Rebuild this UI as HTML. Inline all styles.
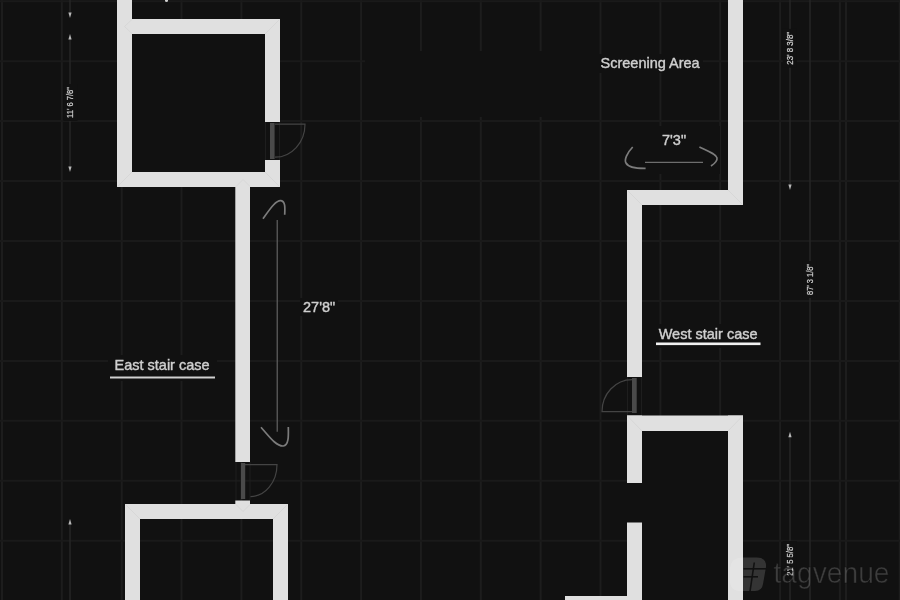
<!DOCTYPE html>
<html><head><meta charset="utf-8"><style>
html,body{margin:0;padding:0;background:#111111;width:900px;height:600px;overflow:hidden}
svg{display:block;will-change:transform}
text{font-family:"Liberation Sans",sans-serif}
</style></head><body>
<svg width="900" height="600" viewBox="0 0 900 600">
<rect x="0" y="0" width="900" height="600" fill="#111111"/>
<line x1="2.0" y1="0" x2="2.0" y2="600" stroke="#1d1d1d" stroke-width="2"/>
<line x1="61.85" y1="0" x2="61.85" y2="600" stroke="#1d1d1d" stroke-width="2"/>
<line x1="121.7" y1="0" x2="121.7" y2="600" stroke="#1d1d1d" stroke-width="2"/>
<line x1="181.55" y1="0" x2="181.55" y2="600" stroke="#1d1d1d" stroke-width="2"/>
<line x1="241.4" y1="0" x2="241.4" y2="600" stroke="#1d1d1d" stroke-width="2"/>
<line x1="301.25" y1="0" x2="301.25" y2="600" stroke="#1d1d1d" stroke-width="2"/>
<line x1="361.1" y1="0" x2="361.1" y2="600" stroke="#1d1d1d" stroke-width="2"/>
<line x1="420.95" y1="0" x2="420.95" y2="600" stroke="#1d1d1d" stroke-width="2"/>
<line x1="480.8" y1="0" x2="480.8" y2="600" stroke="#1d1d1d" stroke-width="2"/>
<line x1="540.65" y1="0" x2="540.65" y2="600" stroke="#1d1d1d" stroke-width="2"/>
<line x1="600.5" y1="0" x2="600.5" y2="600" stroke="#1d1d1d" stroke-width="2"/>
<line x1="660.35" y1="0" x2="660.35" y2="600" stroke="#1d1d1d" stroke-width="2"/>
<line x1="720.2" y1="0" x2="720.2" y2="600" stroke="#1d1d1d" stroke-width="2"/>
<line x1="780.05" y1="0" x2="780.05" y2="600" stroke="#1d1d1d" stroke-width="2"/>
<line x1="839.9" y1="0" x2="839.9" y2="600" stroke="#1d1d1d" stroke-width="2"/>
<line x1="899.75" y1="0" x2="899.75" y2="600" stroke="#1d1d1d" stroke-width="2"/>
<line x1="846" y1="0" x2="846" y2="600" stroke="#1d1d1d" stroke-width="2"/>
<line x1="0" y1="1.2" x2="900" y2="1.2" stroke="#1a1a1a" stroke-width="2"/>
<line x1="0" y1="61.15" x2="900" y2="61.15" stroke="#1a1a1a" stroke-width="2"/>
<line x1="0" y1="121.1" x2="900" y2="121.1" stroke="#1a1a1a" stroke-width="2"/>
<line x1="0" y1="181.05" x2="900" y2="181.05" stroke="#1a1a1a" stroke-width="2"/>
<line x1="0" y1="241.0" x2="900" y2="241.0" stroke="#1a1a1a" stroke-width="2"/>
<line x1="0" y1="300.95" x2="900" y2="300.95" stroke="#1a1a1a" stroke-width="2"/>
<line x1="0" y1="360.9" x2="900" y2="360.9" stroke="#1a1a1a" stroke-width="2"/>
<line x1="0" y1="420.85" x2="900" y2="420.85" stroke="#1a1a1a" stroke-width="2"/>
<line x1="0" y1="480.8" x2="900" y2="480.8" stroke="#1a1a1a" stroke-width="2"/>
<line x1="0" y1="540.75" x2="900" y2="540.75" stroke="#1a1a1a" stroke-width="2"/>
<rect x="365" y="51" width="233" height="66" fill="#111111"/>
<rect x="622" y="126" width="98" height="48" fill="#111111"/>
<rect x="132" y="34" width="133" height="138" fill="#111111"/>
<rect x="642" y="431" width="86" height="169" fill="#111111"/>
<rect x="117" y="0" width="15" height="187" fill="#e0e0e0"/>
<rect x="117" y="19" width="163" height="15" fill="#e0e0e0"/>
<rect x="265" y="19" width="15" height="103" fill="#e0e0e0"/>
<rect x="265" y="160" width="15" height="27" fill="#e0e0e0"/>
<rect x="117" y="172" width="163" height="15" fill="#e0e0e0"/>
<rect x="235.3" y="187" width="14.699999999999989" height="275" fill="#e0e0e0"/>
<rect x="235.3" y="500.5" width="14.699999999999989" height="3.5" fill="#e0e0e0"/>
<rect x="125" y="504" width="163" height="15" fill="#e0e0e0"/>
<rect x="125" y="504" width="15" height="96" fill="#e0e0e0"/>
<rect x="273" y="504" width="15" height="96" fill="#e0e0e0"/>
<rect x="728" y="0" width="15" height="205" fill="#e0e0e0"/>
<rect x="627" y="190" width="116" height="15" fill="#e0e0e0"/>
<rect x="627" y="190" width="15" height="187" fill="#e0e0e0"/>
<rect x="627" y="415.5" width="15" height="67.5" fill="#e0e0e0"/>
<rect x="627" y="415.5" width="116" height="15.5" fill="#e0e0e0"/>
<rect x="728" y="415.5" width="15" height="184.5" fill="#e0e0e0"/>
<rect x="627" y="522.5" width="15" height="77.5" fill="#e0e0e0"/>
<rect x="565" y="596" width="77" height="4" fill="#e0e0e0"/>
<path d="M132 19.5 L124.5 26.5 L132 33.5" fill="none" stroke="#d4d4d4" stroke-width="0.8"/>
<path d="M279.5 19.5 L265 34" fill="none" stroke="#d4d4d4" stroke-width="0.8"/>
<path d="M117.5 186.5 L132 172" fill="none" stroke="#d4d4d4" stroke-width="0.8"/>
<path d="M279.5 186.5 L265 172" fill="none" stroke="#d4d4d4" stroke-width="0.8"/>
<path d="M236 186.5 L243 179.5 L250 186.5" fill="none" stroke="#d4d4d4" stroke-width="0.8"/>
<path d="M125.5 504.5 L140 519" fill="none" stroke="#d4d4d4" stroke-width="0.8"/>
<path d="M287.5 504.5 L273 519" fill="none" stroke="#d4d4d4" stroke-width="0.8"/>
<path d="M236 504.5 L243 511.5 L250 504.5" fill="none" stroke="#d4d4d4" stroke-width="0.8"/>
<path d="M627.5 190.5 L642 205" fill="none" stroke="#d4d4d4" stroke-width="0.8"/>
<path d="M742.5 204.5 L728 190" fill="none" stroke="#d4d4d4" stroke-width="0.8"/>
<path d="M627.5 416 L642 431" fill="none" stroke="#d4d4d4" stroke-width="0.8"/>
<path d="M742.5 416 L728 431" fill="none" stroke="#d4d4d4" stroke-width="0.8"/>
<line x1="265.5" y1="122" x2="265.5" y2="160" stroke="#1e1e1e" stroke-width="1"/>
<line x1="279.5" y1="122" x2="279.5" y2="160" stroke="#1e1e1e" stroke-width="1"/>
<line x1="236" y1="462" x2="236" y2="500" stroke="#1e1e1e" stroke-width="1"/>
<line x1="250" y1="462" x2="250" y2="500" stroke="#1e1e1e" stroke-width="1"/>
<line x1="627.5" y1="377" x2="627.5" y2="415" stroke="#1e1e1e" stroke-width="1"/>
<line x1="641.5" y1="377" x2="641.5" y2="415" stroke="#1e1e1e" stroke-width="1"/>
<rect x="270" y="123" width="4.6" height="36" fill="#4a4a4a"/>
<path d="M275 124.2 H305 A30 33 0 0 1 275 157.2" fill="none" stroke="#444444" stroke-width="1.2"/>
<rect x="241" y="463" width="4.2" height="36" fill="#4a4a4a"/>
<path d="M245 464.6 H277 A26.5 32 0 0 1 250.5 496.6" fill="none" stroke="#444444" stroke-width="1.2"/>
<rect x="632" y="378" width="4.7" height="35" fill="#4a4a4a"/>
<path d="M632 379.6 A30 32 0 0 0 602 411.7 H632" fill="none" stroke="#444444" stroke-width="1.2"/>
<line x1="277.2" y1="220" x2="277.2" y2="431.7" stroke="#6a6a6a" stroke-width="1.1"/>
<path d="M263 218.7 C270 209 276 200 281 200.7 C285.5 201.5 285 208 284.7 214.7" fill="none" stroke="#7c7c7c" stroke-width="1.7"/>
<path d="M261 427.3 C268 435 276 446.5 283.3 446 C289 445.5 288.5 435 288.3 427" fill="none" stroke="#7c7c7c" stroke-width="1.7"/>
<line x1="645" y1="162.3" x2="703" y2="162.3" stroke="#6e6e6e" stroke-width="1.3"/>
<path d="M632.7 147 C627 153 624 160 626 163 C628 167 637 168.5 645.6 168.4" fill="none" stroke="#7c7c7c" stroke-width="1.7"/>
<path d="M699.4 147 C708 151 716 154 717 158 C717.5 161 714 164 711 166" fill="none" stroke="#7c7c7c" stroke-width="1.7"/>
<line x1="70" y1="0" x2="70" y2="15" stroke="#262626" stroke-width="1.5"/>
<line x1="70" y1="37" x2="70" y2="169" stroke="#262626" stroke-width="1.5"/>
<line x1="70" y1="522" x2="70" y2="600" stroke="#262626" stroke-width="1.5"/>
<path d="M68.4 12.5 L71.6 12.5 L70 18 Z" fill="#b8b8b8"/>
<path d="M68.4 39.5 L71.6 39.5 L70 34 Z" fill="#b8b8b8"/>
<path d="M68.4 166.5 L71.6 166.5 L70 172 Z" fill="#b8b8b8"/>
<path d="M68.4 524.5 L71.6 524.5 L70 519 Z" fill="#b8b8b8"/>
<line x1="790" y1="0" x2="790" y2="186" stroke="#262626" stroke-width="1.5"/>
<line x1="790" y1="435" x2="790" y2="600" stroke="#262626" stroke-width="1.5"/>
<line x1="810" y1="0" x2="810" y2="600" stroke="#262626" stroke-width="1.5"/>
<path d="M788.4 184.5 L791.6 184.5 L790 190 Z" fill="#b8b8b8"/>
<path d="M788.4 437.2 L791.6 437.2 L790 431.7 Z" fill="#b8b8b8"/>
<rect x="63.400000000000006" y="84.0" width="14" height="37" fill="#111111"/>
<text x="0" y="0" transform="translate(73.4,102.5) rotate(-90)" text-anchor="middle" font-size="9" fill="#cccccc" stroke="#cccccc" stroke-width="0.25" textLength="31" lengthAdjust="spacingAndGlyphs">11' 6 7/8"</text>
<rect x="782.8" y="28.949999999999996" width="14" height="38.7" fill="#111111"/>
<text x="0" y="0" transform="translate(792.8,48.3) rotate(-90)" text-anchor="middle" font-size="9" fill="#cccccc" stroke="#cccccc" stroke-width="0.25" textLength="32.7" lengthAdjust="spacingAndGlyphs">23' 8 3/8"</text>
<rect x="802.8" y="261.0" width="14" height="37" fill="#111111"/>
<text x="0" y="0" transform="translate(812.8,279.5) rotate(-90)" text-anchor="middle" font-size="9" fill="#cccccc" stroke="#cccccc" stroke-width="0.25" textLength="31" lengthAdjust="spacingAndGlyphs">87' 3 1/8"</text>
<rect x="782.8" y="541.0" width="14" height="38" fill="#111111"/>
<text x="0" y="0" transform="translate(792.8,560) rotate(-90)" text-anchor="middle" font-size="9" fill="#cccccc" stroke="#cccccc" stroke-width="0.25" textLength="32" lengthAdjust="spacingAndGlyphs">21' 5 5/8"</text>
<rect x="597" y="54" width="106" height="19" fill="#111111"/>
<text x="600.5" y="67.7" font-size="14.5" fill="#cfcfcf" stroke="#cfcfcf" stroke-width="0.4">Screening Area</text>
<text x="662" y="145.3" font-size="14.5" fill="#cfcfcf" stroke="#cfcfcf" stroke-width="0.4">7'3"</text>
<rect x="300" y="298" width="38" height="18" fill="#111111"/>
<text x="303" y="312.0" font-size="14.5" fill="#cfcfcf" stroke="#cfcfcf" stroke-width="0.4">27'8"</text>
<rect x="108" y="355" width="109" height="26" fill="#111111"/>
<text x="114.5" y="369.5" font-size="14.5" fill="#cfcfcf" stroke="#cfcfcf" stroke-width="0.4">East stair case</text>
<rect x="110" y="376.5" width="105" height="2" fill="#d0d0d0"/>
<rect x="654" y="324" width="109" height="24" fill="#111111"/>
<text x="658.7" y="338.7" font-size="14.5" fill="#cfcfcf" stroke="#cfcfcf" stroke-width="0.4">West stair case</text>
<rect x="656" y="342.5" width="104.5" height="2.6" fill="#f2f2f2"/>
<circle cx="166.5" cy="0.5" r="1.5" fill="#cfcfcf"/>
<text x="773.5" y="582.5" font-size="29" fill="#ffffff" fill-opacity="0.19" stroke="#111111" stroke-width="0.6" textLength="116" lengthAdjust="spacingAndGlyphs">tagvenue</text>
<path d="M742 557.5 L757 557.5 Q766.5 557.5 766 567 L763 584 Q762 591 755 591 L740 591 Q730 591 730 580 L730 568 Q731 557.5 742 557.5 Z" fill="#ffffff" fill-opacity="0.15"/>
<path d="M754.3 562.5 L750 591.5" stroke="#111111" stroke-width="1.6"/>
<path d="M743.5 568.8 L767 568.8" stroke="#111111" stroke-width="1.6"/>
<path d="M743.5 576.8 L758 576.8" stroke="#111111" stroke-width="1.6"/>
</svg>
</body></html>
